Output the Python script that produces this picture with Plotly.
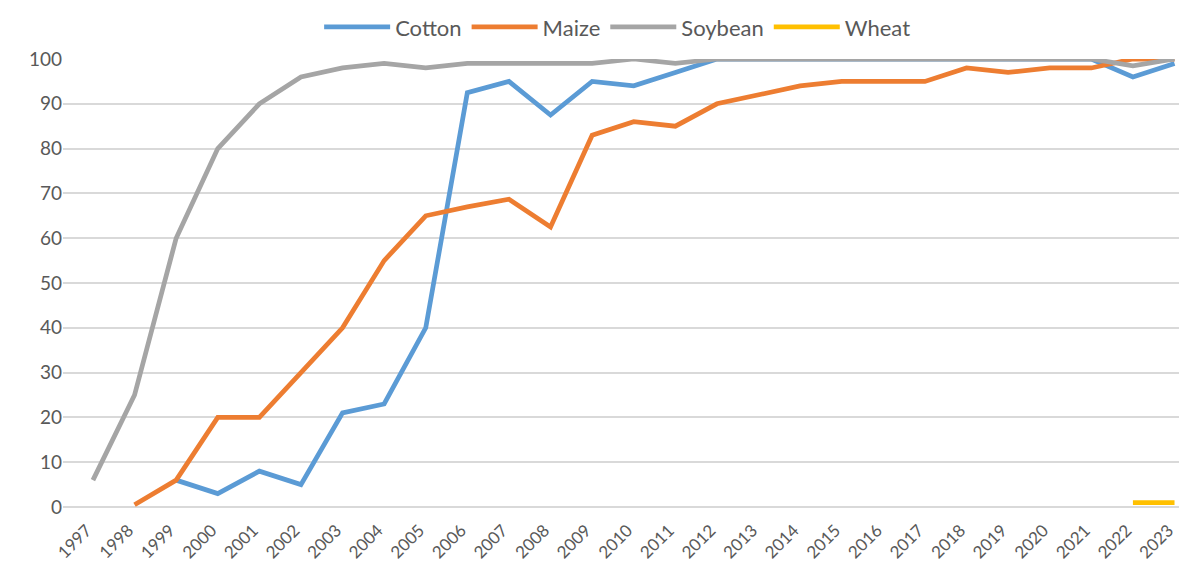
import plotly.graph_objects as go

years = list(range(1997, 2024))
cotton = [None, None, 6, 3, 8, 5, 21, 23, 40, 92.5, 95, 87.5, 95, 94, 97, 100,
          100, 100, 100, 100, 100, 100, 100, 100, 100, 96, 99]
maize = [None, 0.5, 6, 20, 20, 30, 40, 55, 65, 67, 68.7, 62.5, 83, 86, 85, 90,
         92, 94, 95, 95, 95, 98, 97, 98, 98, 100, 100]
soybean = [6, 25, 60, 80, 90, 96, 98, 99, 98, 99, 99, 99, 99, 100, 99, 100,
           100, 100, 100, 100, 100, 100, 100, 100, 100, 98.5, 100]
wheat = [None] * 25 + [1, 1]
tick_labels = [str(y) for y in years]

series = [("Cotton", cotton, "#5b9bd5"), ("Maize", maize, "#ed7d31"),
          ("Soybean", soybean, "#a5a5a5"), ("Wheat", wheat, "#ffc000")]

fig = go.Figure()
for name, vals, col in series:
    fig.add_trace(go.Scatter(x=years, y=vals, name=name, mode="lines",
                             line=dict(color=col, width=4.75),
                             connectgaps=False))

font = "Lato, 'Open Sans', sans-serif"
fig.update_layout(
    width=1179, height=563,
    margin=dict(l=55, r=0, t=51, b=64, autoexpand=False),
    paper_bgcolor="white", plot_bgcolor="white",
    font=dict(family=font, color="#595959", size=17),
    legend=dict(orientation="h", x=0.493, xanchor="center", y=1.071, yanchor="middle",
                font=dict(size=22, color="#595959"), itemwidth=66,
                traceorder="normal"),
    showlegend=True,
)
fig.update_xaxes(range=[1996.28, 2023.3], tickmode="array", tickvals=years,
                 ticktext=[t + "\u00a0\u00a0" for t in tick_labels], tickangle=-45,
                 showgrid=False, zeroline=False, showline=False, automargin=False,
                 ticklabeloverflow="allow", ticklabelstandoff=3,
                 tickfont=dict(size=17, color="#595959"))
fig.update_yaxes(range=[0, 100], dtick=10, showgrid=True, gridcolor="#d9d9d9",
                 gridwidth=1.5, zeroline=True, zerolinecolor="#d9d9d9",
                 zerolinewidth=1.5, showline=False, ticks="", automargin=False,
                 tickfont=dict(size=19, color="#595959"), ticklen=0)

fig.write_html("out.html")
